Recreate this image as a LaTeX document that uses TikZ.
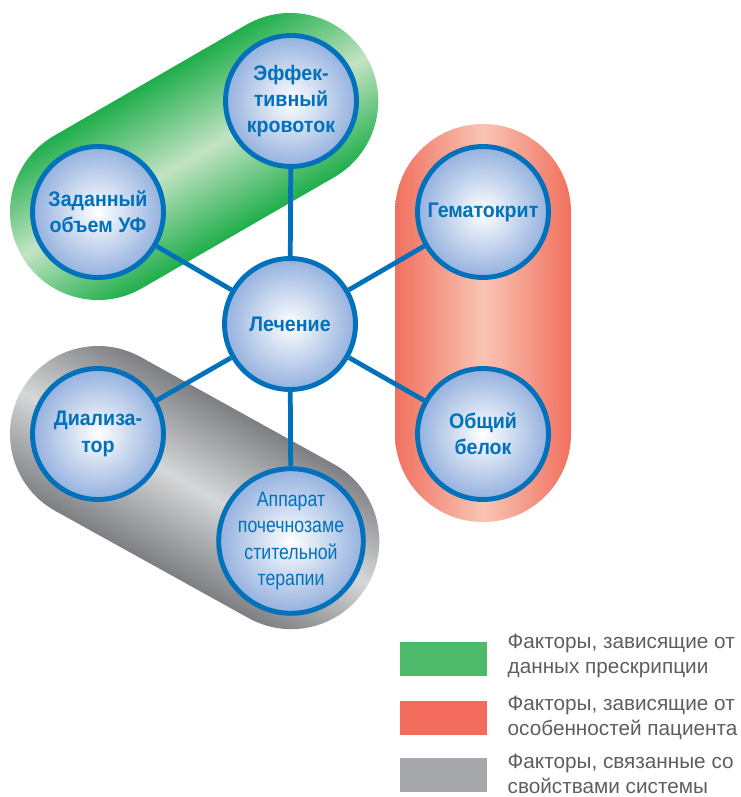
\documentclass[tikz,border=0pt]{standalone}
\usepackage{fontspec}
\setmainfont{Liberation Sans}
\newfontfamily\ballfont[FakeStretch=0.93]{Liberation Sans}
\newfontfamily\narrowfont[FakeStretch=0.84]{Liberation Sans}
\usetikzlibrary{positioning}

\definecolor{nodeblue}{HTML}{0071BA}
\definecolor{ballblue}{HTML}{94B1DE}
\definecolor{gredge}{HTML}{1FAE4B}
\definecolor{grmid}{HTML}{C3E3C4}
\definecolor{rdedge}{HTML}{F1705E}
\definecolor{rdmid}{HTML}{F9C5B5}
\definecolor{gyedge}{HTML}{7E7F82}
\definecolor{gymid}{HTML}{D6D7D9}
\definecolor{leggreen}{HTML}{4DB96A}
\definecolor{legred}{HTML}{F26B5C}
\definecolor{leggray}{HTML}{A6A8AB}
\definecolor{legtext}{HTML}{5D5E61}

\begin{document}
\begin{tikzpicture}[
    x=0.02cm, y=-0.02cm,
    ball/.style={circle, draw=nodeblue, line width=2.8pt, inner color=white,
                 outer color=ballblue, minimum size=2.62cm, inner sep=0pt,
                 text=nodeblue, align=center,
                 font=\ballfont\bfseries\fontsize{12}{15}\selectfont},
    link/.style={draw=nodeblue, line width=2.7pt},
    legbox/.style={minimum width=1.74cm, minimum height=0.68cm, inner sep=0pt},
    legtext/.style={font=\fontsize{11.8}{14.5}\selectfont, text=legtext,
                    align=left, inner sep=0pt}
  ]
  \useasboundingbox (0,0) rectangle (740,797);

  % --- tubes behind the groups ---
  \begin{scope}[transform canvas={shift={(98,212)}, rotate=30}]
    \shade[top color=gredge, bottom color=gredge, middle color=grmid]
      (0,-88) -- (222,-88) arc[start angle=-90, end angle=90, radius=88]
      -- (0,88) arc[start angle=90, end angle=270, radius=88] -- cycle;
  \end{scope}
  \begin{scope}[transform canvas={shift={(483,212)}, rotate=-90}]
    \shade[top color=rdedge, bottom color=rdedge, middle color=rdmid]
      (0,-88) -- (222,-88) arc[start angle=-90, end angle=90, radius=88]
      -- (0,88) arc[start angle=90, end angle=270, radius=88] -- cycle;
  \end{scope}
  \begin{scope}[transform canvas={shift={(98,434)}, rotate=-29}]
    \shade[top color=gyedge, bottom color=gyedge, middle color=gymid]
      (0,-88) -- (221,-88) arc[start angle=-90, end angle=90, radius=88]
      -- (0,88) arc[start angle=90, end angle=270, radius=88] -- cycle;
  \end{scope}

  % --- factors ---
  \node[ball] (cure) at (290,324) {Лечение};
  \node[ball] (flow) at (291,101) {Эффек-\\тивный\\кровоток};
  \node[ball] (uf)   at (98,212)  {Заданный\\объем УФ};
  \node[ball] (hct)  at (483,212) {Гематокрит};
  \node[ball] (prot) at (483,434) {Общий\\белок};
  \node[ball] (dlz)  at (98,434)  {Диализа-\\тор};
  \node[ball, font=\narrowfont\fontsize{12}{15}\selectfont] (mach) at (291,541)
    {Аппарат\\почечнозаме\\стительной\\терапии};

  \draw[link] (cure) -- (flow);
  \draw[link] (cure) -- (uf);
  \draw[link] (cure) -- (hct);
  \draw[link] (cure) -- (prot);
  \draw[link] (cure) -- (dlz);
  \draw[link] (cure) -- (mach);

  % --- legend ---
  \node[legbox, fill=leggreen] (kgreen) at (443.5,659) {};
  \node[legbox, fill=legred]   (kred)   at (443.5,718) {};
  \node[legbox, fill=leggray]  (kgray)  at (443.5,775) {};
  \node[legtext, right=0.4cm of kgreen, yshift=0.06cm] (tgreen)
    {Факторы, зависящие от\\данных прескрипции};
  \node[legtext, right=0.4cm of kred] (tred)
    {Факторы, зависящие от\\особенностей пациента};
  \node[legtext, right=0.4cm of kgray, yshift=0.02cm] (tgray)
    {Факторы, связанные со\\свойствами системы};

\end{tikzpicture}
\end{document}
